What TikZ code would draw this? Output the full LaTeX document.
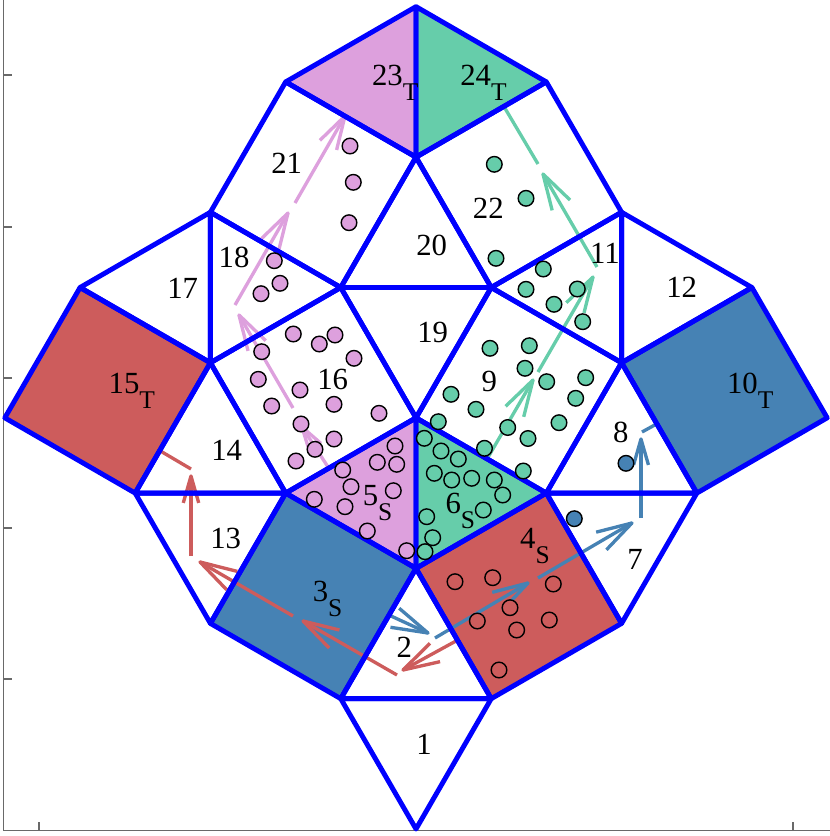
\documentclass[tikz,border=0pt]{standalone}
\usepackage{fontspec}
\setmainfont{Liberation Serif}
\usetikzlibrary{calc}
\definecolor{plum}{RGB}{221,160,221}
\definecolor{aqua}{RGB}{102,205,170}
\definecolor{steel}{RGB}{70,130,180}
\definecolor{ired}{RGB}{205,92,92}
\definecolor{axgray}{RGB}{105,105,105}
\newcommand{\sublbl}[2]{#1\raisebox{-8.8pt}{\fontsize{14.5}{14.5}\selectfont #2}}
\newcommand{\qshaft}[3]{\draw[quiv,#1] (#2) -- (#3);}
\newcommand{\qhead}[4]{\draw[quiv,#1] ($(#3)!#4!16:(#2)$) -- (#3) -- ($(#3)!#4!-16:(#2)$);}
\begin{document}
\begin{tikzpicture}[x=0.02cm,y=-0.02cm,
  tile/.style={draw=blue, line width=2.8pt, line join=round},
  quiv/.style={line width=1.9pt, line join=round},
  dot/.style={draw=black, line width=0.8pt},
  lab/.style={inner sep=0pt, font=\fontsize{17.5}{17.5}\selectfont},
  slab/.style={inner sep=0pt, anchor=base west, font=\fontsize{17.5}{17.5}\selectfont},
  axisline/.style={draw=axgray, line width=0.6pt}]
\useasboundingbox (0,0) rectangle (830,836);
% axes
\coordinate (ax0) at (3.3,0);
\coordinate (axo) at (3.3,830.7);
\coordinate (ax1) at (830,830.7);
\draw[axisline] (ax0) -- (axo) -- (ax1);
\foreach \yy in {75,227,378,528,679} \draw[axisline] (3.3,\yy) -- (12,\yy);
\foreach \xx in {39,793} \draw[axisline] (\xx,830.7) -- (\xx,822);
% geometry (unit = side length)
\begin{scope}[shift={(416,829)}, scale=150.5, yscale=-1]
\coordinate (bot) at (0,0);
\coordinate (A) at (-0.5,0.866025);
\coordinate (B) at (0.5,0.866025);
\coordinate (O) at (0,1.732051);
\coordinate (Q) at (-1.366025,1.366025);
\coordinate (P) at (-0.866025,2.232051);
\coordinate (S) at (1.366025,1.366025);
\coordinate (R) at (0.866025,2.232051);
\coordinate (T) at (0,2.732051);
\coordinate (L) at (-1.366025,3.098076);
\coordinate (Lr) at (1.366025,3.098076);
\coordinate (U) at (-0.5,3.598076);
\coordinate (V) at (0.5,3.598076);
\coordinate (W) at (0,4.464102);
\coordinate (Y) at (-1.366025,4.098076);
\coordinate (Yr) at (1.366025,4.098076);
\coordinate (M) at (-0.866025,4.964102);
\coordinate (Mr) at (0.866025,4.964102);
\coordinate (X) at (0,5.464102);
\coordinate (Z) at (-2.232051,3.598076);
\coordinate (Zr) at (2.232051,3.598076);
\coordinate (K) at (-1.866025,2.232051);
\coordinate (Kr) at (1.866025,2.232051);
\coordinate (J) at (-2.732051,2.732051);
\coordinate (Jr) at (2.732051,2.732051);
\end{scope}
% fills
\fill[steel] (A)--(O)--(P)--(Q)--cycle;
\fill[ired] (B)--(O)--(R)--(S)--cycle;
\fill[plum] (O)--(P)--(T)--cycle;
\fill[aqua] (O)--(T)--(R)--cycle;
\fill[steel] (Kr)--(Lr)--(Zr)--(Jr)--cycle;
\fill[ired] (K)--(L)--(Z)--(J)--cycle;
\fill[plum] (W)--(M)--(X)--cycle;
\fill[aqua] (W)--(X)--(Mr)--cycle;
% quiver arrows
\coordinate (p1s) at (343,490); \coordinate (p1t) at (302,427);
\coordinate (p2s) at (293,408); \coordinate (p2t) at (239,315);
\coordinate (p3s) at (235,305); \coordinate (p3t) at (288,213);
\coordinate (p4s) at (295,203); \coordinate (p4t) at (345,116);
\coordinate (g1s) at (476,478); \coordinate (g1t) at (533,380);
\coordinate (g2s) at (538,372); \coordinate (g2t) at (593,277);
\coordinate (g3s) at (597,267); \coordinate (g3t) at (543,174);
\coordinate (g4s) at (538,164); \coordinate (g4t) at (490,83);
\coordinate (b1s) at (330,588); \coordinate (b1t) at (428,633);
\coordinate (b2s) at (435,638); \coordinate (b2t) at (528,583);
\coordinate (b3s) at (538,578); \coordinate (b3t) at (632,523);
\coordinate (b4s) at (641,518); \coordinate (b4t) at (641,439);
\coordinate (b5s) at (642,432); \coordinate (b5t) at (702,399);
\coordinate (r1s) at (498,618); \coordinate (r1t) at (403,670);
\coordinate (r2s) at (397,675); \coordinate (r2t) at (303,621);
\coordinate (r3s) at (293,616); \coordinate (r3t) at (200,562);
\coordinate (r4s) at (191,556); \coordinate (r4t) at (191,476);
\coordinate (r5s) at (191,469); \coordinate (r5t) at (140,439);
\qshaft{plum}{p1s}{p1t} \qhead{plum}{p1s}{p1t}{0.5cm}
\qshaft{plum}{p2s}{p2t} \qhead{plum}{p2s}{p2t}{0.74cm}
\qshaft{plum}{p3s}{p3t} \qhead{plum}{p3s}{p3t}{0.74cm}
\qshaft{plum}{p4s}{p4t} \qhead{plum}{p4s}{p4t}{0.70cm}
\qshaft{aqua}{g1s}{g1t} \qhead{aqua}{g1s}{g1t}{0.76cm}
\qshaft{aqua}{g2s}{g2t} \qhead{aqua}{g2s}{g2t}{0.74cm}
\qshaft{aqua}{g3s}{g3t} \qhead{aqua}{g3s}{g3t}{0.75cm}
\qshaft{aqua}{g4s}{g4t}
\qshaft{steel}{b1s}{b1t} \qhead{steel}{b1s}{b1t}{0.76cm}
\qshaft{steel}{b2s}{b2t} \qhead{steel}{b2s}{b2t}{0.74cm}
\qshaft{steel}{b3s}{b3t} \qhead{steel}{b3s}{b3t}{0.74cm}
\qshaft{steel}{b4s}{b4t} \qhead{steel}{b4s}{b4t}{0.54cm}
\qshaft{steel}{b5s}{b5t}
\qshaft{ired}{r1s}{r1t} \qhead{ired}{r1s}{r1t}{0.76cm}
\qshaft{ired}{r2s}{r2t} \qhead{ired}{r2s}{r2t}{0.75cm}
\qshaft{ired}{r3s}{r3t} \qhead{ired}{r3s}{r3t}{0.77cm}
\qshaft{ired}{r4s}{r4t} \qhead{ired}{r4s}{r4t}{0.56cm}
\qshaft{ired}{r5s}{r5t}
% tile borders
\draw[tile] (bot)--(A)--(B)--cycle;
\draw[tile] (A)--(B)--(O)--cycle;
\draw[tile] (A)--(O)--(P)--(Q)--cycle;
\draw[tile] (B)--(O)--(R)--(S)--cycle;
\draw[tile] (O)--(P)--(T)--cycle;
\draw[tile] (O)--(T)--(R)--cycle;
\draw[tile] (R)--(S)--(Kr)--cycle;
\draw[tile] (R)--(Kr)--(Lr)--cycle;
\draw[tile] (T)--(R)--(Lr)--(V)--cycle;
\draw[tile] (Kr)--(Lr)--(Zr)--(Jr)--cycle;
\draw[tile] (Lr)--(V)--(Yr)--cycle;
\draw[tile] (Lr)--(Yr)--(Zr)--cycle;
\draw[tile] (K)--(P)--(Q)--cycle;
\draw[tile] (P)--(K)--(L)--cycle;
\draw[tile] (K)--(L)--(Z)--(J)--cycle;
\draw[tile] (T)--(P)--(L)--(U)--cycle;
\draw[tile] (L)--(Y)--(Z)--cycle;
\draw[tile] (L)--(U)--(Y)--cycle;
\draw[tile] (T)--(U)--(V)--cycle;
\draw[tile] (U)--(V)--(W)--cycle;
\draw[tile] (U)--(W)--(M)--(Y)--cycle;
\draw[tile] (V)--(W)--(Mr)--(Yr)--cycle;
\draw[tile] (W)--(M)--(X)--cycle;
\draw[tile] (W)--(X)--(Mr)--cycle;
% dots
\foreach \p in {(350,146),(353.3,182.3),(349,222.7),
  (274.3,260.7),(280,283.3),(261,293.7),
  (293.3,334),(319.3,344),(335,335),(354,358.3),(261.7,351.7),(258.3,379.3),(300,390),(334,404.3),(271.7,406),(301,424),(379,413.3),(315,449.3),(334,439),(296,461),
  (342.7,470),(377.3,462.3),(395,446),(396.7,464.3),(351,486.7),(393.3,490.7),(314.3,499.3),(345,506.7),(367.3,531),(406.7,550.7)}
  \filldraw[dot,fill=plum] \p circle[radius=0.156cm];
\foreach \p in {(494.3,164.3),(526,198.3),(496,258.3),
  (543.3,269),(526,289.3),(577.3,289),(554,304.3),(582.7,321.7),
  (490,348.3),(529.3,345.7),(525,368.3),(546.7,381.7),(585.7,377.7),(451,394.3),(476,409.3),(575.7,398.3),(507.7,427.5),(559,422.7),(528,438.5),(523.3,471),(484.5,448.3),
  (438.3,421.7),(424.3,438.3),(441,451),(458.3,459),(434.3,473.3),(451.7,480),(471.7,478.3),(494.3,480),(502.7,495),(483.3,510),(426.7,516.7),(432.7,537.7),(425,551.7)}
  \filldraw[dot,fill=aqua] \p circle[radius=0.156cm];
\foreach \p in {(574.3,518.7),(626,463.3)}
  \filldraw[dot,fill=steel] \p circle[radius=0.156cm];
\foreach \p in {(455,581.7),(492.7,577.7),(553.3,584),(510,607.7),(477.3,621),(516.7,630),(549.3,620),(499,670)}
  \filldraw[dot,fill=ired] \p circle[radius=0.156cm];
% labels
\node[lab] (l1) at (424,744.3) {1};
\node[lab] (l2) at (404.3,647.3) {2};
\node[slab] (l3) at (312.5,601) {\sublbl{3}{S}};
\node[slab] (l4) at (519.8,548) {\sublbl{4}{S}};
\node[slab] (l5) at (362.5,505) {\sublbl{5}{S}};
\node[slab] (l6) at (445.2,513.3) {\sublbl{6}{S}};
\node[lab] (l7) at (635,559) {7};
\node[lab] (l8) at (620.7,432.3) {8};
\node[lab] (l9) at (489.3,381.7) {9};
\node[slab] (l10) at (726.7,393.3) {\sublbl{10}{T}};
\node[lab] (l11) at (605,253.3) {11};
\node[lab] (l12) at (681.7,287.3) {12};
\node[lab] (l13) at (225.7,538.3) {13};
\node[lab] (l14) at (226.7,450) {14};
\node[slab] (l15) at (108.3,393.3) {\sublbl{15}{T}};
\node[lab] (l16) at (332.7,379.3) {16};
\node[lab] (l17) at (182.7,288.3) {17};
\node[lab] (l18) at (234,257) {18};
\node[lab] (l19) at (432.7,332.3) {19};
\node[lab] (l20) at (431.7,245) {20};
\node[lab] (l21) at (286.7,163.3) {21};
\node[lab] (l22) at (488.3,208.3) {22};
\node[slab] (l23) at (371.7,85) {\sublbl{23}{T}};
\node[slab] (l24) at (460,85) {\sublbl{24}{T}};
\end{tikzpicture}
\end{document}
